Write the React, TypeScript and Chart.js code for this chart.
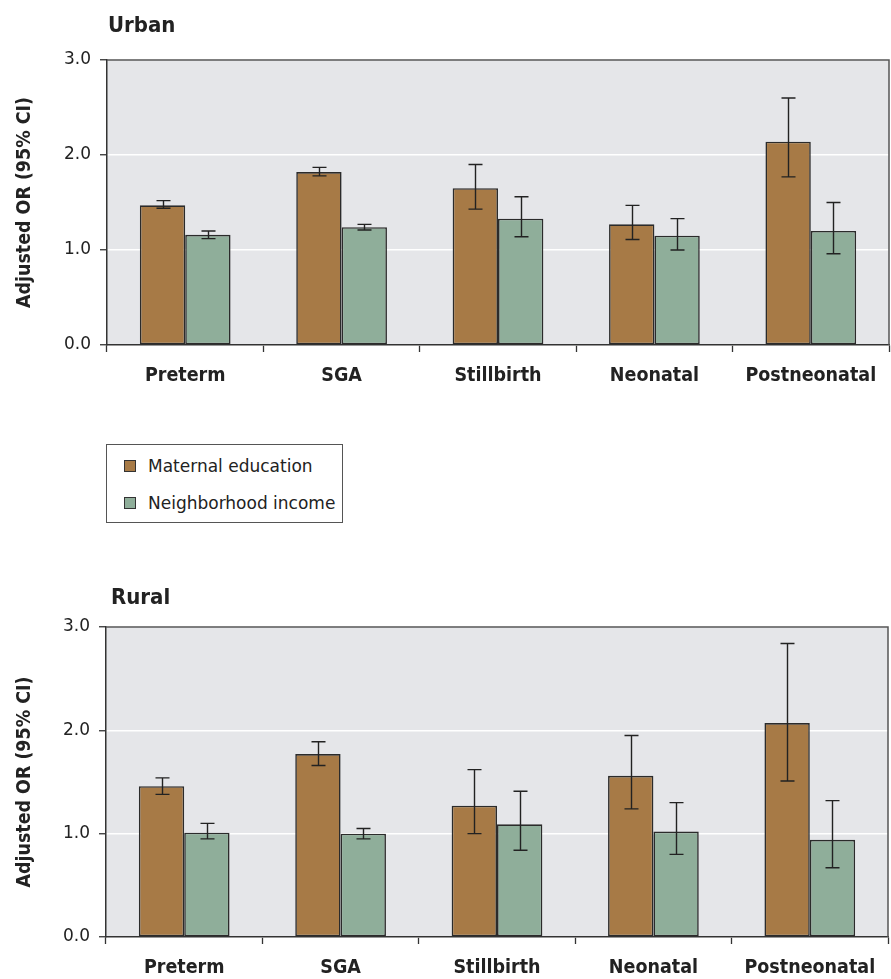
import React, { useEffect, useRef } from "react";
import { Chart, registerables } from "chart.js";

Chart.register(...registerables);

// ---------- data ----------
const categories = ["Preterm", "SGA", "Stillbirth", "Neonatal", "Postneonatal"];
const seriesNames = ["Maternal education", "Neighborhood income"];
const yTickValues = [0, 1, 2, 3];

const urbanEdu = [1.47, 1.82, 1.65, 1.27, 2.14];
const urbanEduLo = [1.44, 1.78, 1.43, 1.11, 1.77];
const urbanEduHi = [1.52, 1.87, 1.9, 1.47, 2.6];
const urbanInc = [1.16, 1.24, 1.33, 1.15, 1.2];
const urbanIncLo = [1.12, 1.21, 1.14, 1.0, 0.96];
const urbanIncHi = [1.2, 1.27, 1.56, 1.33, 1.5];

const ruralEdu = [1.46, 1.77, 1.27, 1.56, 2.07];
const ruralEduLo = [1.38, 1.66, 1.0, 1.24, 1.51];
const ruralEduHi = [1.54, 1.89, 1.62, 1.95, 2.84];
const ruralInc = [1.01, 1.0, 1.09, 1.02, 0.94];
const ruralIncLo = [0.95, 0.95, 0.84, 0.8, 0.67];
const ruralIncHi = [1.1, 1.05, 1.41, 1.3, 1.32];

// ---------- style ----------
const EDU_COLOR = "#a77a46";
const INC_COLOR = "#8fae9a";
const PLOT_BG = "#e5e6e9";
const TEXT = "#222222";
const AXIS = "#333333";
const BAR_EDGE = "#2b2b2b";
const FRAME = "#555555";
const REG_FONT = '"DejaVu Sans", "Liberation Sans", sans-serif';
const BOLD_FONT = '"DejaVu Sans Condensed", "DejaVu Sans", "Liberation Sans", sans-serif';

type PanelCfg = {
  title: string;
  titleX: number;
  titleBaseline: number;
  width: number;
  height: number;
  padTop: number;
  padRight: number;
  axisWidth: number;
  xAxisHeight: number;
  edu: number[];
  eduLo: number[];
  eduHi: number[];
  inc: number[];
  incLo: number[];
  incHi: number[];
};

function makePanelPlugin(cfg: PanelCfg) {
  const lows = [cfg.eduLo, cfg.incLo];
  const highs = [cfg.eduHi, cfg.incHi];
  return {
    id: "panel_" + cfg.title,
    beforeDraw(chart: any) {
      const { ctx, chartArea: a } = chart;
      ctx.save();
      ctx.fillStyle = PLOT_BG;
      ctx.fillRect(a.left, a.top, a.right - a.left, a.bottom - a.top);
      ctx.restore();
    },
    afterDatasetsDraw(chart: any) {
      const { ctx } = chart;
      const ys = chart.scales.y;
      ctx.save();
      ctx.strokeStyle = "#222";
      ctx.lineWidth = 1.4;
      chart.data.datasets.forEach((_ds: any, di: number) => {
        const meta = chart.getDatasetMeta(di);
        meta.data.forEach((bar: any, i: number) => {
          const x = Math.round(bar.x) + 0.5;
          const y1 = ys.getPixelForValue(lows[di][i]);
          const y2 = ys.getPixelForValue(highs[di][i]);
          const cap = 7;
          ctx.beginPath();
          ctx.moveTo(x, y1);
          ctx.lineTo(x, y2);
          ctx.moveTo(x - cap, y1);
          ctx.lineTo(x + cap, y1);
          ctx.moveTo(x - cap, y2);
          ctx.lineTo(x + cap, y2);
          ctx.stroke();
        });
      });
      ctx.restore();
    },
    afterDraw(chart: any) {
      const { ctx, chartArea: a } = chart;
      ctx.save();
      ctx.strokeStyle = FRAME;
      ctx.lineWidth = 1.5;
      ctx.beginPath();
      ctx.moveTo(a.left, a.top);
      ctx.lineTo(a.right, a.top);
      ctx.lineTo(a.right, a.bottom);
      ctx.stroke();
      ctx.fillStyle = TEXT;
      ctx.font = "bold 22px " + BOLD_FONT;
      ctx.textBaseline = "alphabetic";
      ctx.textAlign = "left";
      ctx.fillText(cfg.title, cfg.titleX, cfg.titleBaseline);
      ctx.restore();
    },
  };
}

function Panel({ cfg, top }: { cfg: PanelCfg; top: number }) {
  const ref = useRef<HTMLCanvasElement | null>(null);
  useEffect(() => {
    if (!ref.current) return;
    const chart = new Chart(ref.current, {
      type: "bar",
      data: {
        labels: categories,
        datasets: [
          {
            label: seriesNames[0],
            data: cfg.edu,
            backgroundColor: EDU_COLOR,
            borderColor: BAR_EDGE,
            borderWidth: 1.6,
            borderSkipped: false,
            categoryPercentage: 0.58,
            barPercentage: 1.0,
          },
          {
            label: seriesNames[1],
            data: cfg.inc,
            backgroundColor: INC_COLOR,
            borderColor: BAR_EDGE,
            borderWidth: 1.6,
            borderSkipped: false,
            categoryPercentage: 0.58,
            barPercentage: 1.0,
          },
        ],
      },
      options: {
        responsive: false,
        animation: false,
        layout: { padding: { top: cfg.padTop, right: cfg.padRight, left: 0, bottom: 0 } },
        plugins: {
          legend: { display: false },
          tooltip: { enabled: false },
          title: { display: false },
        },
        scales: {
          x: {
            offset: true,
            grid: {
              offset: true,
              drawOnChartArea: false,
              drawTicks: true,
              tickLength: 7,
              tickColor: AXIS,
              tickWidth: 1.3,
            },
            border: { color: AXIS, width: 1.5 },
            ticks: {
              color: TEXT,
              padding: 12,
              font: { family: BOLD_FONT, size: 19.5, weight: "bold" },
              maxRotation: 0,
              autoSkip: false,
            },
            afterFit: (s: any) => {
              s.height = cfg.xAxisHeight;
            },
          },
          y: {
            min: 0,
            max: 3,
            afterBuildTicks: (s: any) => {
              s.ticks = yTickValues.map((v) => ({ value: v }));
            },
            grid: {
              color: "#ffffff",
              lineWidth: 1.5,
              drawTicks: true,
              tickLength: 7,
              tickColor: AXIS,
              tickWidth: 1.3,
            },
            border: { color: AXIS, width: 1.5 },
            ticks: {
              color: TEXT,
              padding: 9,
              font: { family: REG_FONT, size: 17 },
              callback: (v: any) => Number(v).toFixed(1),
            },
            title: {
              display: true,
              text: "Adjusted OR (95% CI)",
              color: TEXT,
              font: { family: BOLD_FONT, size: 19.4, weight: "bold" },
              padding: { top: 13, bottom: 0 },
            },
            afterFit: (s: any) => {
              s.width = cfg.axisWidth;
            },
          },
        },
      },
      plugins: [makePanelPlugin(cfg)],
    } as any);
    return () => chart.destroy();
  }, [cfg]);
  return (
    <canvas
      ref={ref}
      width={cfg.width}
      height={cfg.height}
      style={{ position: "absolute", left: 0, top, display: "block" }}
    />
  );
}

const urbanCfg: PanelCfg = {
  title: "Urban",
  titleX: 108,
  titleBaseline: 32,
  width: 891,
  height: 410,
  padTop: 60,
  padRight: 2,
  axisWidth: 107,
  xAxisHeight: 410 - 345,
  edu: urbanEdu,
  eduLo: urbanEduLo,
  eduHi: urbanEduHi,
  inc: urbanInc,
  incLo: urbanIncLo,
  incHi: urbanIncHi,
};

const ruralCfg: PanelCfg = {
  title: "Rural",
  titleX: 111,
  titleBaseline: 64,
  width: 891,
  height: 439,
  padTop: 87,
  padRight: 3,
  axisWidth: 106,
  xAxisHeight: 42,
  edu: ruralEdu,
  eduLo: ruralEduLo,
  eduHi: ruralEduHi,
  inc: ruralInc,
  incLo: ruralIncLo,
  incHi: ruralIncHi,
};

function Legend() {
  const colors = [EDU_COLOR, INC_COLOR];
  return (
    <div
      style={{
        position: "absolute",
        left: 106,
        top: 444,
        width: 235,
        height: 77,
        border: "1px solid #555",
        background: "#fff",
        fontFamily: REG_FONT,
        fontSize: 17,
        color: TEXT,
      }}
    >
      {seriesNames.map((name, i) => (
        <div
          key={name}
          style={{
            position: "absolute",
            left: 17,
            top: 10 + i * 37,
            height: 22,
            display: "flex",
            alignItems: "center",
            whiteSpace: "nowrap",
          }}
        >
          <span
            style={{
              display: "inline-block",
              width: 10,
              height: 10,
              background: colors[i],
              border: "1px solid #333",
              marginRight: 12,
            }}
          />
          <span>{name}</span>
        </div>
      ))}
    </div>
  );
}

export default function App() {
  return (
    <div
      style={{
        position: "absolute",
        left: 0,
        top: 0,
        width: 891,
        height: 979,
        overflow: "hidden",
        background: "#fff",
      }}
    >
      <Panel cfg={urbanCfg} top={0} />
      <Legend />
      <Panel cfg={ruralCfg} top={540} />
    </div>
  );
}
